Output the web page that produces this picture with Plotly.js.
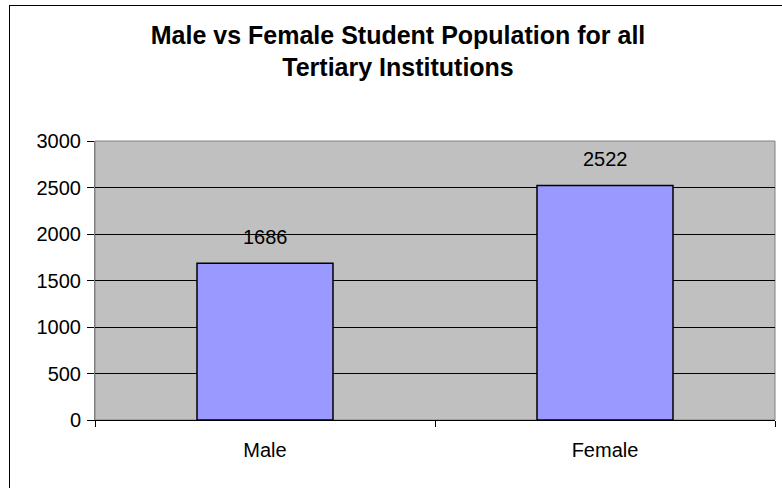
<!DOCTYPE html>
<html>
<head>
<meta charset="utf-8">
<script src="https://cdn.plot.ly/plotly-3.0.1.min.js"></script>
<style>
  html, body { margin: 0; padding: 0; background: #ffffff; overflow: hidden; }
  #grafico { width: 782px; height: 488px; position: relative; }
  #marco {
    position: absolute; left: 9px; top: 5px; width: 800px; height: 500px;
    border: 1px solid #000000; pointer-events: none;
  }
</style>
</head>
<body>
<div id="grafico"><div id="marco"></div></div>
<script>
// Datos del gráfico
const categorias = ['Male', 'Female'];
const poblacion = [1686, 2522];
const ticksY = [0, 500, 1000, 1500, 2000, 2500, 3000];

const fuente = 'Liberation Sans, Arial, sans-serif';

const trace = {
    type: 'bar',
    x: categorias,
    y: poblacion,
    marker: {
        color: '#9999ff',
        line: { color: '#000000', width: 1.5 }
    },
    hoverinfo: 'x+y'
};

// Etiquetas de valor encima de cada barra
const etiquetas = categorias.map((c, i) => ({
    x: c,
    y: poblacion[i],
    text: String(poblacion[i]),
    showarrow: false,
    yanchor: 'bottom',
    yshift: 13,
    font: { family: fuente, size: 20, color: '#000000' }
}));

const layout = {
    width: 782,
    height: 488,
    paper_bgcolor: 'rgba(0,0,0,0)',
    plot_bgcolor: '#c0c0c0',
    margin: { l: 95, r: 7, t: 141, b: 68 },
    showlegend: false,
    bargap: 0.6,
    title: {
        text: 'Male vs Female Student Population for all<br>Tertiary Institutions',
        font: { family: fuente, size: 25, color: '#000000', weight: 'bold' },
        xref: 'container',
        x: 0.509,
        xanchor: 'center',
        yref: 'container',
        y: 0.91,
        yanchor: 'middle'
    },
    xaxis: {
        type: 'category',
        showgrid: false,
        showline: true,
        linecolor: '#000000',
        linewidth: 1,
        ticks: 'outside',
        tickson: 'boundaries',
        ticklen: 6,
        tickcolor: '#000000',
        ticklabelstandoff: 12,
        tickfont: { family: fuente, size: 20, color: '#000000' },
        fixedrange: true
    },
    yaxis: {
        range: [0, 3000],
        tickvals: ticksY,
        ticktext: ticksY.map(String),
        showgrid: true,
        gridcolor: '#000000',
        gridwidth: 1,
        zeroline: false,
        showline: true,
        linecolor: '#808080',
        linewidth: 1,
        ticks: 'outside',
        ticklen: 7,
        tickcolor: '#000000',
        ticklabelstandoff: 2,
        tickfont: { family: fuente, size: 20, color: '#000000' },
        fixedrange: true
    },
    annotations: etiquetas,
    shapes: [{
        // borde gris del área de trazado (arriba y derecha)
        type: 'rect',
        xref: 'paper', yref: 'paper',
        x0: 0, x1: 1, y0: 0, y1: 1,
        line: { color: '#808080', width: 1 },
        layer: 'below'
    }]
};

const config = { displayModeBar: false, staticPlot: true };

Plotly.newPlot('grafico', [trace], layout, config);
</script>
</body>
</html>
